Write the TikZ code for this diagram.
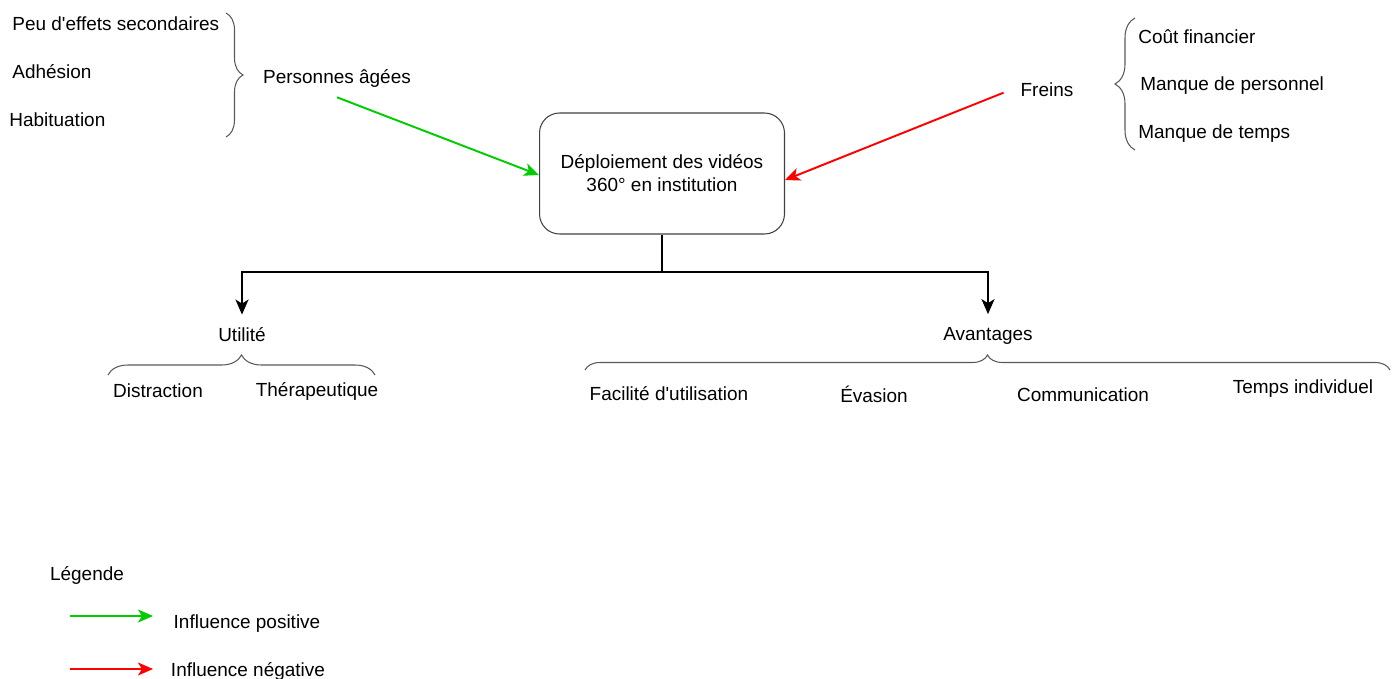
\documentclass[tikz,border=0pt]{standalone}
\usepackage{fontspec}
\setmainfont{Liberation Sans}
\usetikzlibrary{arrows.meta,positioning,decorations.pathreplacing}
\definecolor{posgreen}{RGB}{0,204,0}
\definecolor{negred}{RGB}{255,0,0}

\begin{document}
\begin{tikzpicture}[>={Stealth[length=0.3cm,width=0.26cm,inset=0.08cm]},x=0.02cm,y=-0.02cm,font=\fontsize{10.8}{13}\selectfont,
  txt/.style={inner sep=0pt},
  main/.style={draw=black!75,rounded corners=0.4cm,minimum width=4.9cm,minimum height=2.42cm,align=center,line width=0.6pt},
  brc/.style={draw=black!65,line width=0.6pt,decorate,decoration={brace,amplitude=#1}},
  posarrow/.style={->,posgreen,line width=1.1pt},
  negarrow/.style={->,negred,line width=1.1pt},
  treeline/.style={line width=1.3pt}]

    \useasboundingbox (0,0) rectangle (1400,679);

    % The central box
	\node [main] at (662,173.5) (box) {D\'eploiement des vid\'eos\\360° en institution};

    % Older people
	\node [txt,anchor=west] at (12,24) (pEffets) {Peu d\textquotesingle effets secondaires};
	\node [txt,anchor=west] at (12,72) (pAdh) {Adh\'esion};
	\node [txt,anchor=west] at (9,120) (pHab) {Habituation};
	\node [txt] at (337,78) (pers) {Personnes \^ag\'ees};
	\draw [brc=0.34cm] (226,13) -- (226,137);

    % Obstacles
	\node [txt] at (1047,90) (freins) {Freins};
	\node [txt,anchor=west] at (1138,37) (fCout) {Co\^ut financier};
	\node [txt,anchor=west] at (1140,86) (fPers) {Manque de personnel};
	\node [txt,anchor=west] at (1138,134) (fTemps) {Manque de temps};
	\draw [brc=0.4cm] (1135,150) -- (1135,18);

	% Influence edges
	\draw [posarrow] ([yshift=-0.2cm]pers.south) -- ([yshift=-0.03cm]box.west);
	\draw [negarrow,shorten <=0.36cm] ([yshift=0.08cm]freins.west) -- ([yshift=-0.13cm]box.east);

    % Usefulness and advantages
	\node [txt] at (242,335) (util) {Utilit\'e};
	\node [txt] at (988,336) (avant) {Avantages};
	\coordinate (fork) at (662,272);
	\draw [treeline] (box.south) -- (fork);
	\draw [treeline,->,shorten >=0.26cm] (fork) -| (util.north);
	\draw [treeline,->,shorten >=0.26cm] (fork) -| (avant.north);

	\node [txt] at (158,391) (uDist) {Distraction};
	\node [txt] at (317,391) (uTher) {Th\'erapeutique};
	\draw [brc=0.4cm] (108,375) -- (375,375);

	\node [txt] at (669,394) (aFac) {Facilit\'e d\textquotesingle utilisation};
	\node [txt] at (874,394) (aEva) {\'Evasion};
	\node [txt] at (1083,395) (aCom) {Communication};
	\node [txt] at (1303,389) (aTemps) {Temps individuel};
	\draw [brc=0.3cm] (585,370) -- (1390,370);

    % Legend
	\node [txt] at (87,575) (leg) {L\'egende};
	\coordinate (gA) at (70,616);
	\coordinate (gB) at (153,616);
	\coordinate (rA) at (70,669);
	\coordinate (rB) at (153,669);
	\draw [posarrow] (gA) -- (gB);
	\draw [negarrow] (rA) -- (rB);
	\node [txt] at (247,624) (legPos) {Influence positive};
	\node [txt] at (248,671) (legNeg) {Influence n\'egative};

\end{tikzpicture}
\end{document}
